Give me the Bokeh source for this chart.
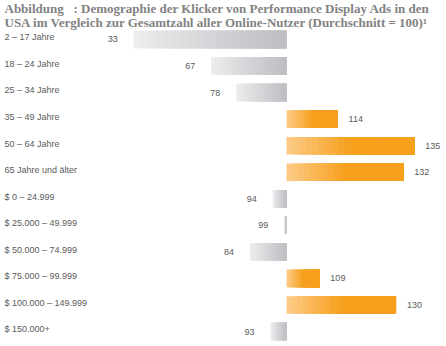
from bokeh.plotting import figure
from bokeh.models import Range1d, Label, ColumnDataSource
from bokeh.core.properties import value
from bokeh.embed import file_html
from bokeh.resources import INLINE
import numpy as np

categories = ["2 – 17 Jahre", "18 – 24 Jahre", "25 – 34 Jahre", "35 – 49 Jahre",
              "50 – 64 Jahre", "65 Jahre und älter", "$ 0 – 24.999",
              "$ 25.000 – 49.999", "$ 50.000 – 74.999", "$ 75.000 – 99.999",
              "$ 100.000 – 149.999", "$ 150.000+"]
values = [33, 67, 78, 114, 135, 132, 94, 99, 84, 109, 130, 93]
baseline = 100
title_line1 = "Abbildung\u00a0\u00a0\u00a0: Demographie der Klicker von Performance Display Ads in den"
title_line2 = "USA im Vergleich zur Gesamtzahl aller Online-Nutzer (Durchschnitt = 100)¹"

W, H = 446, 346
n = len(categories)
rows = list(range(n))

# scales: below-average part and above-average part
low_range = Range1d(-25.4, 170.2)
high_range = Range1d(21.64, 143.83)
y_range = Range1d(11.565, -1.469)

p = figure(width=W, height=H, x_range=low_range, y_range=y_range,
           output_backend="svg", toolbar_location=None,
           x_axis_location=None, y_axis_location=None,
           min_border=0, min_border_left=0, min_border_right=0,
           min_border_top=0, min_border_bottom=0)
p.extra_x_ranges = {"high": high_range}
p.outline_line_color = None
p.grid.visible = False
p.background_fill_color = "white"
p.border_fill_color = "white"

N = 20
def mix(c1, c2, t):
    return "#%02x%02x%02x" % tuple(int(round(a + (b - a) * t)) for a, b in zip(c1, c2))

gray_light, gray_dark = (236, 236, 238), (190, 190, 195)
or_light, or_dark = (253, 202, 132), (246, 160, 30)

low = dict(left=[], right=[], y=[], color=[])
high = dict(left=[], right=[], y=[], color=[])
for r, v in zip(rows, values):
    lo, hi = min(v, baseline), max(v, baseline)
    edges = np.linspace(lo, hi, N + 1)
    for k in range(N):
        t = k / (N - 1)
        if v < baseline:
            d = low
            c = mix(gray_light, gray_dark, t)
        else:
            d = high
            c = mix(or_light, or_dark, min(1.0, t / 0.5))
        d["left"].append(edges[k]); d["right"].append(hi)
        d["y"].append(r); d["color"].append(c)

p.hbar(y="y", left="left", right="right", height=0.66, fill_color="color",
       line_color=None, source=ColumnDataSource(low))
p.hbar(y="y", left="left", right="right", height=0.66, fill_color="color",
       line_color=None, source=ColumnDataSource(high), x_range_name="high")

font = value("Liberation Sans")
# category labels
p.text(x=[low_range.start] * n, y=[r - 0.08 for r in rows], text=categories,
       x_offset=4, text_font=font, text_font_size="9px", text_color="#5a5a5a",
       text_baseline="middle", text_align="left")

lv = [(r, v) for r, v in zip(rows, values) if v < baseline]
hv = [(r, v) for r, v in zip(rows, values) if v >= baseline]
p.text(x=[v for r, v in lv], y=[r for r, v in lv], text=[str(v) for r, v in lv],
       x_offset=-16, text_font=font, text_font_size="9px", text_color="#5a5a5a",
       text_baseline="middle", text_align="right")
p.text(x=[v for r, v in hv], y=[r for r, v in hv], text=[str(v) for r, v in hv],
       x_offset=11, text_font=font, text_font_size="9px", text_color="#5a5a5a",
       text_baseline="middle", text_align="left", x_range_name="high")

for i, line in enumerate([title_line1, title_line2]):
    p.add_layout(Label(x=4, y=H - 8 - 14 * i, x_units="screen", y_units="screen",
                       text=line, text_font="Liberation Serif", text_font_style="bold",
                       text_font_size="13px", text_color="#828282",
                       text_baseline="alphabetic"))

open("out.html", "w").write(file_html(p, INLINE))
